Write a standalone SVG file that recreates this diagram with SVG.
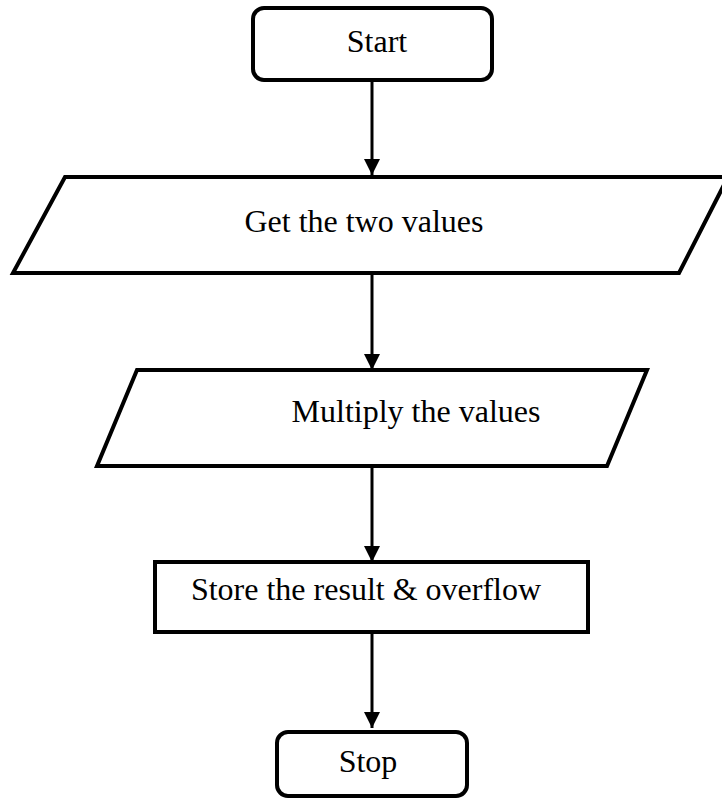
<svg xmlns="http://www.w3.org/2000/svg" width="722" height="799" viewBox="0 0 722 799">
<style>
.s{fill:#fff;stroke:#000;stroke-width:4;stroke-linejoin:miter}
.t{font-family:"Liberation Serif","Times New Roman",serif;font-size:32px;fill:#000;text-anchor:middle}
.c{stroke:#000;stroke-width:3;fill:none}
</style>
<defs>
<marker id="ah" markerUnits="userSpaceOnUse" markerWidth="18" markerHeight="16" refX="16" refY="8" orient="auto">
<path d="M0,0 L16,8 L0,16 Z" fill="#000"/>
</marker>
</defs>
<rect width="722" height="799" fill="#fff"/>
<g id="connectors">
<line class="c" x1="372" y1="80" x2="372" y2="175" marker-end="url(#ah)"/>
<line class="c" x1="372" y1="273" x2="372" y2="370" marker-end="url(#ah)"/>
<line class="c" x1="372" y1="466" x2="372" y2="562" marker-end="url(#ah)"/>
<line class="c" x1="372" y1="632" x2="372" y2="728" marker-end="url(#ah)"/>
</g>
<g id="start">
<rect class="s" x="253" y="8" width="239" height="72" rx="11"/>
<text class="t" x="377" y="52">Start</text>
</g>
<g id="get">
<polygon class="s" points="65,177 728,177 679,273 13,273"/>
<text class="t" x="364" y="232">Get the two values</text>
</g>
<g id="multiply">
<polygon class="s" points="137,370 647,370 607,466 97,466"/>
<text class="t" x="416" y="422">Multiply the values</text>
</g>
<g id="store">
<rect class="s" x="155" y="562" width="433" height="70"/>
<text class="t" x="366" y="600">Store the result &amp; overflow</text>
</g>
<g id="stop">
<rect class="s" x="277" y="732" width="190" height="64" rx="11"/>
<text class="t" x="368" y="772">Stop</text>
</g>
</svg>
